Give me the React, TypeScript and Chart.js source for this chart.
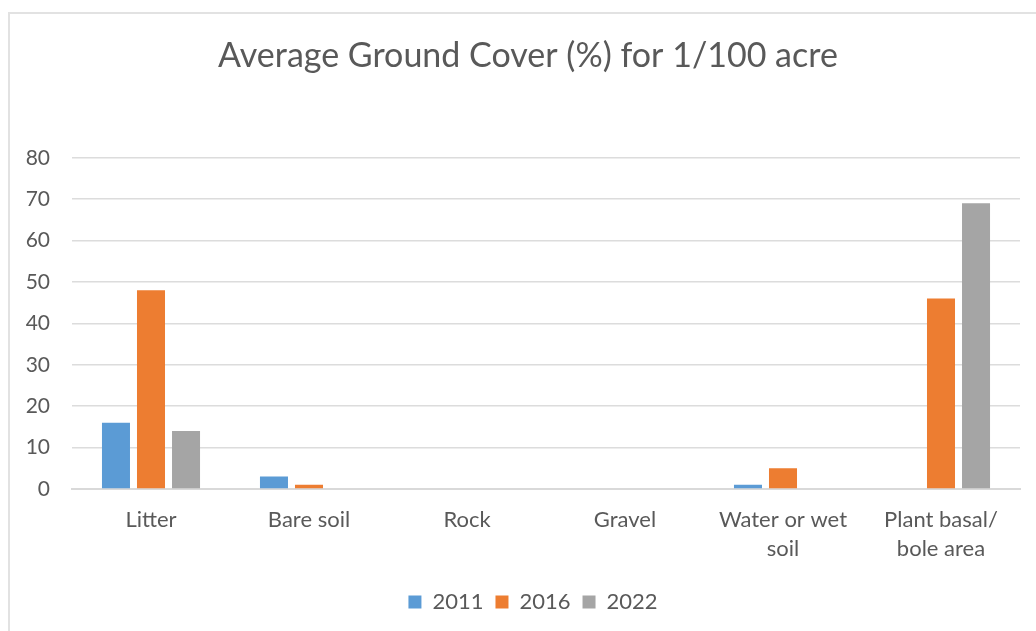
import React, { useEffect, useRef } from "react";
import { Chart, registerables } from "chart.js";

Chart.register(...registerables);

const categories: (string | string[])[] = [
  "Litter",
  "Bare soil",
  "Rock",
  "Gravel",
  ["Water or wet", "soil"],
  ["Plant basal/", "bole area"],
];
const series2011 = [16, 3, 0, 0, 1, 0];
const series2016 = [48, 1, 0, 0, 5, 46];
const series2022 = [14, 0, 0, 0, 0, 69];
const seriesNames = ["2011", "2016", "2022"];
const seriesColors = ["#5B9BD5", "#ED7D31", "#A5A5A5"];
const yTicksMax = 80;
const yTickStep = 10;
const titleText = "Average Ground Cover (%) for 1/100 acre";

const blockShift = {
  id: "blockShift",
  afterLayout(chart: any) {
    if (chart.titleBlock) chart.titleBlock.left += 36;
    if (chart.legend) chart.legend.left += 46;
  },
};

export default function App() {
  const canvasRef = useRef<HTMLCanvasElement | null>(null);

  useEffect(() => {
    const canvas = canvasRef.current;
    if (!canvas) return;
    const font = "Lato, 'Open Sans', sans-serif";
    const data = [series2011, series2016, series2022];
    const chart = new Chart(canvas, {
      type: "bar",
      data: {
        labels: categories,
        datasets: data.map((d, i) => ({
          label: seriesNames[i],
          data: d,
          backgroundColor: seriesColors[i],
          borderWidth: 0,
          categoryPercentage: 0.665,
          barPercentage: 0.8,
        })),
      },
      plugins: [blockShift],
      options: {
        animation: false,
        responsive: false,
        maintainAspectRatio: false,
        layout: { padding: { left: 0, right: 16, top: 0, bottom: 8 } },
        plugins: {
          title: {
            display: true,
            text: titleText,
            color: "#595959",
            font: { family: font, size: 34, weight: "normal" },
            padding: { top: 36, bottom: 81 },
          },
          legend: {
            position: "bottom",
            labels: {
              color: "#595959",
              font: { family: font, size: 22 },
              boxWidth: 13,
              boxHeight: 13,
              padding: 12,
            },
          },
          tooltip: { enabled: false },
        },
        scales: {
          x: {
            grid: { display: false, drawTicks: false },
            border: { display: true, color: "#D9D9D9", width: 2 },
            ticks: {
              color: "#595959",
              font: { family: font, size: 22, lineHeight: 1.32 },
              padding: 16,
              maxRotation: 0,
              autoSkip: false,
            },
          },
          y: {
            min: 0,
            max: yTicksMax,
            afterFit: (scale: any) => {
              scale.width = 72;
            },
            grid: { color: "#DCDCDC", lineWidth: 1.5, drawTicks: false },
            border: { display: false },
            ticks: {
              stepSize: yTickStep,
              color: "#595959",
              font: { family: font, size: 21 },
              padding: 22,
            },
          },
        },
      },
    });
    return () => chart.destroy();
  }, []);

  return (
    <div style={{ position: "fixed", left: 0, top: 0, width: 1036, height: 631, background: "#fff", overflow: "hidden" }}>
      <div
        style={{
          position: "absolute",
          left: 8,
          top: 12,
          width: 1100,
          height: 700,
          borderLeft: "2px solid #E2E2E2",
          borderTop: "2px solid #E2E2E2",
          boxSizing: "border-box",
        }}
      />
      <canvas
        ref={canvasRef}
        width={1036}
        height={631}
        style={{ position: "absolute", left: 0, top: 0, width: 1036, height: 631 }}
      />
    </div>
  );
}
